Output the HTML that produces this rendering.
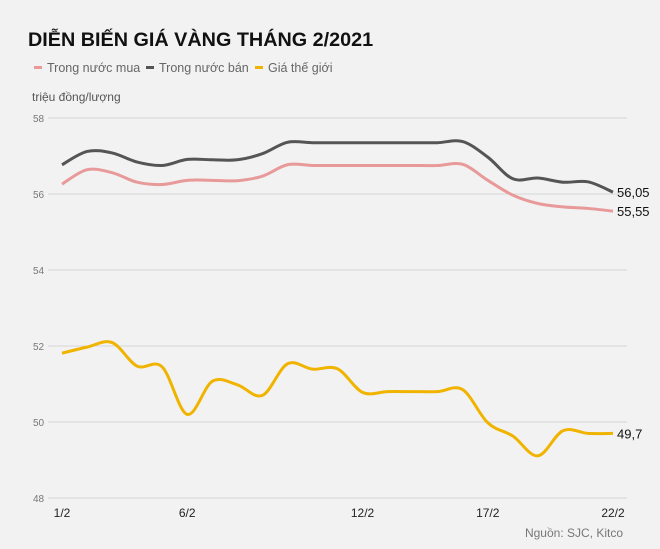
<!DOCTYPE html>
<html><head><meta charset="utf-8"><style>
body{margin:0;background:#f2f2f2;width:660px;height:549px;overflow:hidden;font-family:"Liberation Sans",Arial,sans-serif}
svg{display:block}
</style></head><body>
<svg id="chart" width="660" height="549" viewBox="0 0 660 549">
<rect width="660" height="549" fill="#f2f2f2"/>
<text x="28" y="46" font-size="19.8" font-weight="bold" fill="#111">DIỄN BIẾN GIÁ VÀNG THÁNG 2/2021</text>
<g font-size="12.5" fill="#666">
<g><rect x="34" y="66" width="8" height="3" fill="#e89a9a"/><text x="47" y="72">Trong nước mua</text></g>
<g><rect x="146" y="66" width="8" height="3" fill="#555"/><text x="159" y="72">Trong nước bán</text></g>
<g><rect x="255" y="66" width="8" height="3" fill="#f0b400"/><text x="268" y="72">Giá thế giới</text></g>
</g>
<text x="32" y="101" font-size="12" fill="#555">triệu đồng/lượng</text>
<g id="grid"></g><g id="series"></g>
<text x="623" y="537" font-size="12" fill="#777" text-anchor="end">Nguồn: SJC, Kitco</text>
</svg>
<script>
const yTicks=[48,50,52,54,56,58];
const xLabels=["1/2","6/2","12/2","17/2","22/2"];
const xLabelIdx=[0,5,12,17,22];
const buy=[56.26,56.64,56.56,56.31,56.25,56.36,56.36,56.35,56.47,56.77,56.75,56.75,56.75,56.75,56.75,56.75,56.78,56.36,55.97,55.75,55.66,55.62,55.55];
const sell=[56.77,57.12,57.08,56.84,56.75,56.91,56.9,56.9,57.06,57.36,57.35,57.35,57.35,57.35,57.35,57.35,57.38,56.97,56.4,56.42,56.31,56.32,56.05];
const world=[51.81,51.97,52.09,51.47,51.45,50.2,51.07,50.98,50.7,51.53,51.39,51.4,50.78,50.8,50.8,50.8,50.85,49.98,49.63,49.11,49.77,49.7,49.7];
const endLabels=["55,55","56,05","49,7"];
const NS="http://www.w3.org/2000/svg";
const x=i=>62+i*(613-62)/22;
const y=v=>498-(v-48)*38;
const grid=document.getElementById('grid'),ser=document.getElementById('series');
function mk(tag,attrs,parent){const e=document.createElementNS(NS,tag);for(const k in attrs)e.setAttribute(k,attrs[k]);parent.appendChild(e);return e;}
yTicks.forEach(t=>{
 const l=mk('line',{x1:48,x2:627,y1:y(t),y2:y(t),stroke:'#d6d6d6','stroke-width':1},grid);
 
 
 const tx=mk('text',{x:33,y:y(t)+4,'font-size':10,fill:'#777'},grid);tx.textContent=t;
 
 
});
xLabels.forEach((s,k)=>{
 const tx=mk('text',{x:x(xLabelIdx[k]),y:517,'font-size':12,fill:'#222','text-anchor':'middle'},grid);tx.textContent=s;
 
 
});
function path(arr){
 const p=arr.map((v,i)=>[x(i),y(v)]);let d='M'+p[0][0]+','+p[0][1];
 for(let i=0;i<p.length-1;i++){const p0=p[i-1]||p[i],p1=p[i],p2=p[i+1],p3=p[i+2]||p2;
  d+=` C${p1[0]+(p2[0]-p0[0])/6},${p1[1]+(p2[1]-p0[1])/6} ${p2[0]-(p3[0]-p1[0])/6},${p2[1]-(p3[1]-p1[1])/6} ${p2[0]},${p2[1]}`;}
 return d;}
[[buy,'#e89a9a','buy'],[sell,'#555','sell'],[world,'#f0b400','world']].forEach(([arr,c,n],k)=>{
 const p=mk('path',{d:path(arr),fill:'none',stroke:c,'stroke-width':3,'stroke-linejoin':'round'},ser);
 
 
 const t=mk('text',{x:617,y:y(arr[arr.length-1])+5,'font-size':13,fill:'#111'},ser);t.textContent=endLabels[k];
 
 
});
</script>
</body></html>
